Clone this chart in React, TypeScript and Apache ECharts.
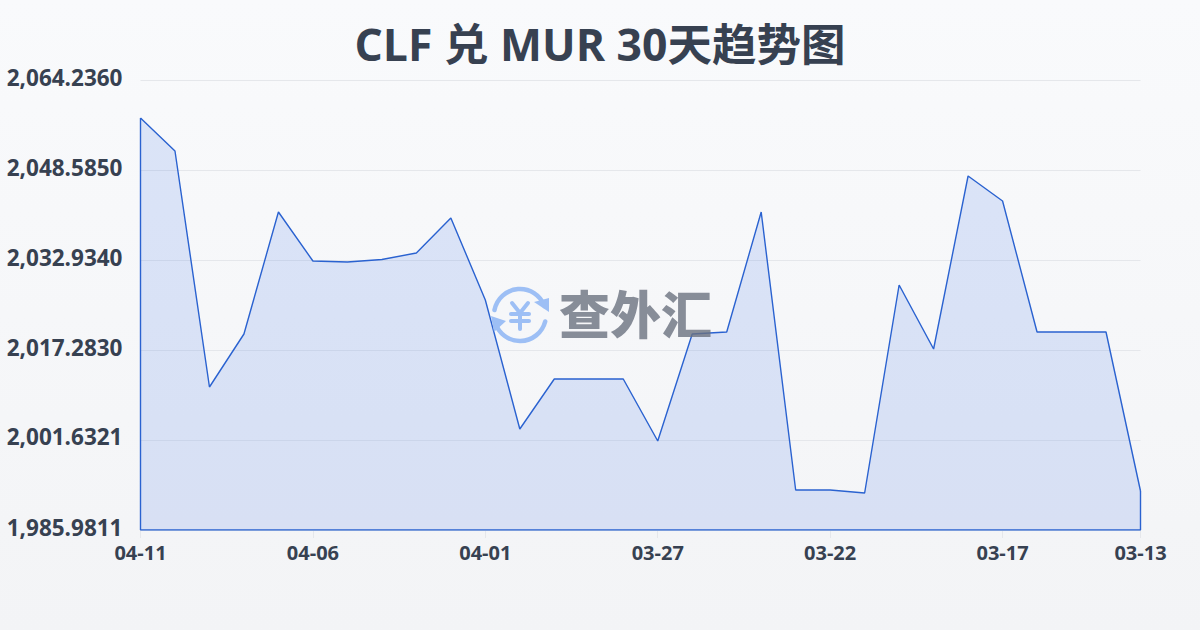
import React, { useEffect, useRef } from "react";
import * as echarts from "echarts";

const titleText = "CLF 兑 MUR 30天趋势图";
const dates = ["04-11","04-10","04-09","04-08","04-07","04-06","04-05","04-04","04-03","04-02","04-01","03-31","03-30","03-29","03-28","03-27","03-26","03-25","03-24","03-23","03-22","03-21","03-20","03-19","03-18","03-17","03-16","03-15","03-14","03-13"];
const rates = [2057.628,2051.889,2010.848,2020.065,2041.281,2032.76,2032.586,2033.021,2034.151,2040.238,2025.978,2003.544,2012.24,2012.24,2012.24,2001.458,2020.065,2020.413,2041.281,1992.937,1992.937,1992.415,2028.586,2017.456,2047.542,2043.194,2020.413,2020.413,2020.413,1992.763];
const yTicks = [1985.9811,2001.6321,2017.283,2032.934,2048.585,2064.236];
const xLabelIndexes = [0,5,10,15,20,25,29];
const watermark = "查外汇";

const FONT = '"Open Sans","Noto Sans CJK SC",sans-serif';
const INK = "#374151";
const LINE = "#2a62d0";
const ICON = "#9dbff5";

export default function App() {
  const ref = useRef<HTMLDivElement>(null);
  useEffect(() => {
    document.body.style.margin = "0";
    const chart = echarts.init(ref.current!, null, { renderer: "svg" });
    const yMin = yTicks[0];
    const yMax = yTicks[yTicks.length - 1];
    const last = rates.length - 1;
    chart.setOption({
      animation: false,
      backgroundColor: {
        type: "linear", x: 0, y: 0, x2: 0, y2: 1,
        colorStops: [{ offset: 0, color: "#f9fafc" }, { offset: 1, color: "#f3f4f6" }],
      },
      title: {
        text: titleText, left: "center", top: 16,
        textStyle: { fontFamily: FONT, fontSize: 44.5, fontWeight: 700, color: INK },
      },
      grid: { left: 140.5, right: 59.5, top: 80, bottom: 100 },
      xAxis: {
        type: "category", data: dates, boundaryGap: false,
        axisLine: { show: false },
        axisTick: { show: true, customValues: xLabelIndexes, length: 8, lineStyle: { color: "#e5e7eb" } },
        axisLabel: {
          customValues: xLabelIndexes, margin: 12, showMaxLabel: true,
          fontFamily: FONT, fontSize: 20, fontWeight: 700, color: INK,
        },
      },
      yAxis: {
        type: "value", min: yMin, max: yMax,
        axisLine: { show: false },
        axisTick: { show: false, customValues: yTicks },
        splitLine: { show: true, lineStyle: { color: "#e5e7eb", width: 1 } },
        axisLabel: {
          customValues: yTicks, margin: 18, verticalAlign: "bottom", lineHeight: 6,
          fontFamily: FONT, fontSize: 22.5, fontWeight: 700, color: INK,
          formatter: (v: number) => v.toLocaleString("en-US", { minimumFractionDigits: 4, maximumFractionDigits: 4 }),
        },
      },
      series: [
        {
          type: "line", data: rates, symbol: "none", smooth: false, z: 2,
          lineStyle: { color: LINE, width: 1.4 },
          areaStyle: { color: "rgba(80,125,230,0.24)" },
        },
        {
          type: "line", symbol: "none", z: 2,
          data: [[0, rates[0]], [0, yMin], [last, yMin], [last, rates[last]]],
          lineStyle: { color: LINE, width: 1.4 },
        },
      ],
      graphic: [
        { type: "arc", z: 10, shape: { cx: 520, cy: 315, r: 26, startAngle: -2.95, endAngle: -0.35, clockwise: true }, style: { stroke: ICON, lineWidth: 4.5, fill: "none", lineCap: "round" } },
        { type: "arc", z: 10, shape: { cx: 520, cy: 315, r: 26, startAngle: 0.25, endAngle: 2.85, clockwise: true }, style: { stroke: ICON, lineWidth: 4.5, fill: "none", lineCap: "round" } },
        { type: "polygon", z: 10, shape: { points: [[534, 302], [549, 298], [549, 312]] }, style: { fill: ICON } },
        { type: "polygon", z: 10, shape: { points: [[491, 316], [506, 321], [494, 332]] }, style: { fill: ICON } },
        { type: "polyline", z: 10, shape: { points: [[512, 303], [520, 313], [528, 303]] }, style: { stroke: ICON, lineWidth: 4, fill: "none", lineCap: "round", lineJoin: "round" } },
        { type: "line", z: 10, shape: { x1: 511, y1: 314, x2: 529, y2: 314 }, style: { stroke: ICON, lineWidth: 4, lineCap: "round" } },
        { type: "line", z: 10, shape: { x1: 511, y1: 321, x2: 529, y2: 321 }, style: { stroke: ICON, lineWidth: 4, lineCap: "round" } },
        { type: "line", z: 10, shape: { x1: 520, y1: 314, x2: 520, y2: 329 }, style: { stroke: ICON, lineWidth: 4, lineCap: "round" } },
        { type: "text", z: 10, x: 559, y: 288, style: { text: watermark, fontFamily: FONT, fontSize: 51, fontWeight: 900, fill: "rgba(107,114,128,0.8)" } },
      ],
    });
    return () => chart.dispose();
  }, []);
  return <div ref={ref} style={{ width: 1200, height: 630 }} />;
}
